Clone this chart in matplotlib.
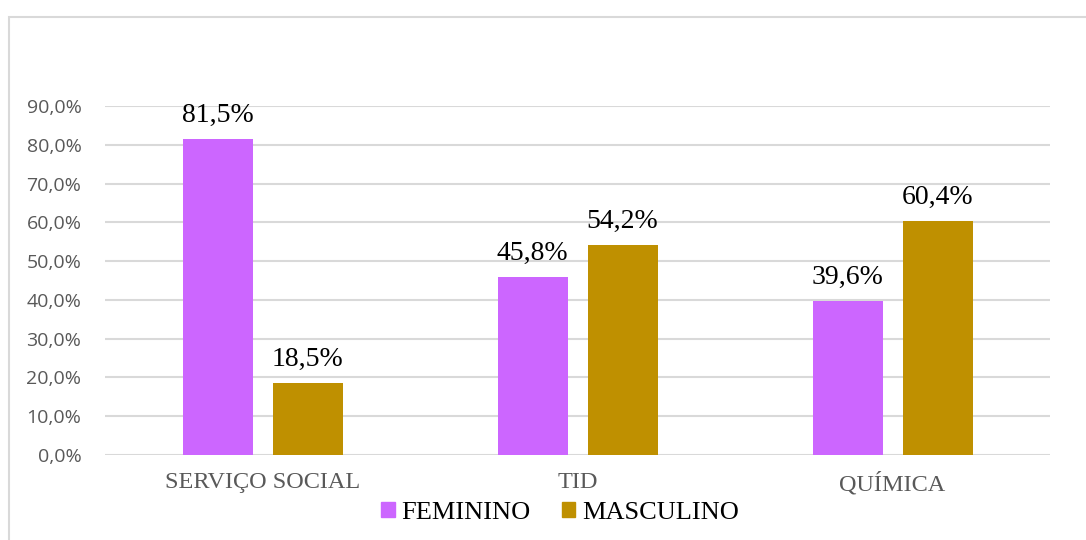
import numpy as np
import matplotlib.pyplot as plt
from matplotlib.patches import Rectangle, Patch
from matplotlib.ticker import FuncFormatter

categories = ['SERVIÇO SOCIAL', 'TID', 'QUÍMICA']
feminino = [81.5, 45.8, 39.6]
masculino = [18.5, 54.2, 60.4]
series_names = ['FEMININO', 'MASCULINO']
colors = ['#CC66FF', '#BF9000']

fig = plt.figure(figsize=(10.86, 5.4), dpi=100)
ax = fig.add_axes([105 / 1086, 1 - 455 / 540, 945 / 1086, 349 / 540])

# chart border like the excel frame
fig.patches.append(Rectangle((9 / 1086, -0.05), 1.2, 1 - 16.5 / 540 + 0.05,
                             transform=fig.transFigure, fill=False,
                             edgecolor='#d9d9d9', linewidth=1.5))

x = np.arange(len(categories))
w = 70 / 315
off = 45 / 315
b1 = ax.bar(x - off, feminino, w, color=colors[0], zorder=3)
b2 = ax.bar(x + off, masculino, w, color=colors[1], zorder=3)

for bars, vals in ((b1, feminino), (b2, masculino)):
    for rect, v in zip(bars, vals):
        ax.annotate(f'{v:.1f}%'.replace('.', ','),
                    (rect.get_x() + rect.get_width() / 2, v),
                    xytext=(0, 8), textcoords='offset points',
                    ha='center', va='bottom', fontsize=20,
                    family='Liberation Serif', color='black')

ax.set_xlim(-0.5, 2.5)
ax.set_ylim(0, 90)
ax.set_yticks(np.arange(0, 91, 10))
ax.yaxis.set_major_formatter(FuncFormatter(lambda v, p: f'{v:.1f}%'.replace('.', ',')))
ax.grid(axis='y', color='#d9d9d9', linewidth=1.5, zorder=0)
for s in ax.spines.values():
    s.set_visible(False)
ax.tick_params(axis='y', length=0, pad=17, labelsize=14, labelcolor='#595959')
for lab in ax.get_yticklabels():
    lab.set_family('Open Sans')
ax.set_xticks(x)
ax.set_xticklabels(categories, family='Liberation Serif', fontsize=17.5, color='#595959')
ax.tick_params(axis='x', length=0, pad=12)

handles = [Patch(color=c, label=n) for c, n in zip(colors, series_names)]
fig.legend(handles=handles, loc='center', bbox_to_anchor=(560 / 1086, 1 - 513 / 540),
           ncol=2, frameon=False, prop={'family': 'Liberation Serif', 'size': 19},
           handlelength=0.5, handleheight=0.5, handletextpad=0.25, columnspacing=1.2)

fig.savefig('out.png', dpi=100)
